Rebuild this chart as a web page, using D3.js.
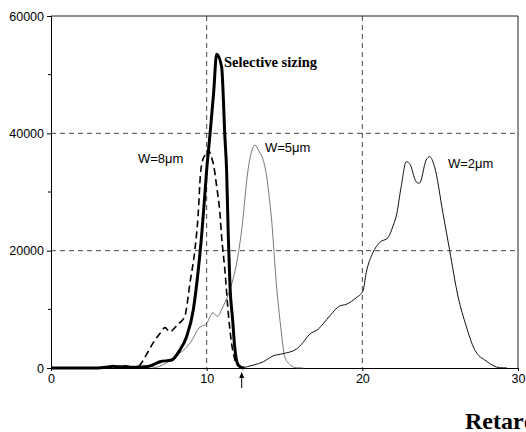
<!DOCTYPE html>
<html>
<head>
<meta charset="utf-8">
<script src="https://cdn.jsdelivr.net/npm/d3@7"></script>
<style>
  body { margin: 0; background: #fff; }
  svg { display: block; }
</style>
</head>
<body>
<div id="chart"></div>
<script>

// values
const sizingX = [0, 3, 3.6, 4, 4.4, 4.8, 5.2, 5.6, 6, 6.35, 7.0, 7.75, 8.28, 8.71, 9.14, 9.46, 9.67, 9.84, 10.0, 10.21, 10.45, 10.64, 10.96, 11.17, 11.28, 11.39, 11.5, 11.67, 11.8, 11.97, 12.14, 12.4]
const sizingY = [0, 0, 150, 300, 150, 250, 100, 150, 200, 340, 1070, 1360, 3070, 5340, 9890, 16700, 22400, 28070, 33750, 39700, 47000, 53500, 51360, 39430, 33750, 22400, 13860, 8180, 3630, 800, 230, 0]

const w8X = [0, 3, 3.8, 4.3, 4.8, 5.3, 5.6, 5.82, 6.2, 6.57, 7.0, 7.32, 7.64, 8.0, 8.28, 8.6, 8.93, 9.25, 9.45, 9.6, 9.75, 9.9, 10.1, 10.3, 10.45, 10.64, 10.85, 10.96, 11.17, 11.39, 11.6, 11.82, 12.03, 12.3]
const w8Y = [0, 0, 200, 350, 150, 250, 300, 900, 2600, 4320, 5900, 6880, 6190, 7000, 7730, 8860, 14550, 20300, 26000, 33000, 35500, 36300, 37200, 36000, 34500, 31000, 26400, 22400, 16700, 9320, 4200, 1360, 340, 0]

const w5X = [6.5, 7.0, 7.5, 8.0, 8.5, 9.0, 9.5, 10.0, 10.4, 10.7, 11.0, 11.5, 12.0, 12.35, 12.46, 12.67, 12.9, 13.1, 13.35, 13.64, 13.8, 13.94, 14.04, 14.15, 14.47, 14.8, 15.0, 15.33, 15.75, 16.2]
const w5Y = [0, 300, 1000, 2000, 3000, 4500, 6800, 7600, 9400, 8800, 10200, 13400, 19000, 25900, 29000, 34000, 37000, 38000, 37000, 35400, 33500, 31000, 28640, 25900, 14550, 6020, 2050, 630, 50, 0]

const w2X = [12.25, 13.0, 13.64, 14.26, 14.9, 15.75, 16.18, 16.61, 17.15, 17.9, 18.54, 18.97, 19.61, 20.04, 20.25, 20.68, 21.1, 21.65, 21.97, 22.18, 22.5, 22.82, 23.03, 23.46, 23.67, 24.1, 24.32, 24.64, 25.18, 25.6, 26.14, 26.67, 27.2, 27.96, 28.82, 29.3]
const w2Y = [0, 500, 1070, 2050, 2440, 3190, 4320, 5740, 6590, 8860, 10570, 10850, 11990, 13130, 16250, 19660, 21370, 22220, 24210, 25900, 31000, 35170, 34890, 31760, 31480, 35450, 36020, 34300, 26370, 20200, 12270, 7160, 3190, 1190, 50, 0]

const yTicks = [0, 20000, 40000, 60000]
const yMinorTicks = [10000, 30000, 50000]
const xTicks = [0, 10, 20, 30]
const arrowAt = 12.25


var width = 526;
var height = 432;

var svg = d3.select("#chart").append("svg")
    .attr("width", width)
    .attr("height", height)

var x = d3.scaleLinear().domain([0, 30]).range([51, 518])
var y = d3.scaleLinear().domain([0, 60000]).range([368, 16])

const sansFont = "'Liberation Sans', Arial, sans-serif"
const serifFont = "'Liberation Serif', 'Times New Roman', serif"

//grid lines
const grid = svg.append('g')
    .attr('stroke', '#333')
    .attr('stroke-width', 0.9)
    .attr('stroke-dasharray', '5,4')

grid.selectAll('.hgrid')
    .data([20000, 40000])
    .enter()
    .append('line')
    .attr('x1', x(0)).attr('x2', x(30))
    .attr('y1', d => y(d)).attr('y2', d => y(d))

grid.selectAll('.vgrid')
    .data([10, 20])
    .enter()
    .append('line')
    .attr('x1', d => x(d)).attr('x2', d => x(d))
    .attr('y1', y(60000)).attr('y2', y(0))

//frame: top and right
svg.append('line')
    .attr('x1', x(0)).attr('x2', x(30))
    .attr('y1', y(60000)).attr('y2', y(60000))
    .attr('stroke', '#222').attr('stroke-width', 1)
svg.append('line')
    .attr('x1', x(30)).attr('x2', x(30))
    .attr('y1', y(60000)).attr('y2', y(0))
    .attr('stroke', '#222').attr('stroke-width', 1)

//axes
const yAxis = d3.axisLeft(y)
    .tickValues(yTicks)
    .tickSize(4)
    .tickPadding(3)
    .tickFormat(d => d)

const yAxisG = svg.append('g')
    .attr('transform', `translate(${x(0)},0)`)
    .call(yAxis)

yAxisG.selectAll('.minor')
    .data(yMinorTicks)
    .enter()
    .append('line')
    .attr('class', 'minor')
    .attr('x1', -3).attr('x2', 0)
    .attr('y1', d => y(d)).attr('y2', d => y(d))
    .attr('stroke', '#000')

const xAxis = d3.axisBottom(x)
    .tickValues(xTicks)
    .tickSize(3)
    .tickPadding(3)
    .tickFormat(d => d)

const xAxisG = svg.append('g')
    .attr('transform', `translate(0,${y(0)})`)
    .call(xAxis)

svg.selectAll('.tick text')
    .attr('font-family', sansFont)
    .attr('font-size', 12.5)
    .attr('fill', '#000')
svg.selectAll('.domain, .tick line').attr('stroke', '#000')

//curves
const line = d3.line()
    .x(d => x(d[0]))
    .y(d => y(d[1]))
    .curve(d3.curveMonotoneX)

const series = [
    { xs: w5X, ys: w5Y, stroke: '#555', width: 0.8, dash: null },
    { xs: w2X, ys: w2Y, stroke: '#111', width: 1, dash: null },
    { xs: w8X, ys: w8Y, stroke: '#000', width: 1.6, dash: '7,4' },
    { xs: sizingX, ys: sizingY, stroke: '#000', width: 3, dash: null }
]

svg.append('g').selectAll('path')
    .data(series)
    .enter()
    .append('path')
    .attr('d', d => line(d.xs.map((v, i) => [v, d.ys[i]])))
    .attr('fill', 'none')
    .attr('stroke', d => d.stroke)
    .attr('stroke-width', d => d.width)
    .attr('stroke-dasharray', d => d.dash)
    .attr('stroke-linejoin', 'round')

//labels
const labels = [
    { text: 'W=8μm', x: 138, y: 163 },
    { text: 'W=5μm', x: 265, y: 152 },
    { text: 'W=2μm', x: 448, y: 168 }
]

svg.selectAll('.wlabel')
    .data(labels)
    .enter()
    .append('text')
    .attr('class', 'wlabel')
    .attr('x', d => d.x)
    .attr('y', d => d.y)
    .attr('font-family', sansFont)
    .attr('font-size', 13)
    .text(d => d.text)

svg.append('text')
    .attr('x', 224).attr('y', 67)
    .attr('font-family', serifFont)
    .attr('font-weight', 'bold')
    .attr('font-size', 14.5)
    .text('Selective sizing')

// axis title runs off the right edge, as in the original
svg.append('text')
    .attr('x', 465).attr('y', 429)
    .attr('font-family', serifFont)
    .attr('font-weight', 'bold')
    .attr('font-size', 24)
    .text('Retardation')

//arrow
const ax = x(arrowAt)
svg.append('line')
    .attr('x1', ax).attr('x2', ax)
    .attr('y1', 388).attr('y2', 374)
    .attr('stroke', '#000').attr('stroke-width', 1)
svg.append('path')
    .attr('d', `M${ax - 2.5},${378} L${ax},${372} L${ax + 2.5},${378} Z`)
    .attr('fill', '#000')

</script>
</body>
</html>
